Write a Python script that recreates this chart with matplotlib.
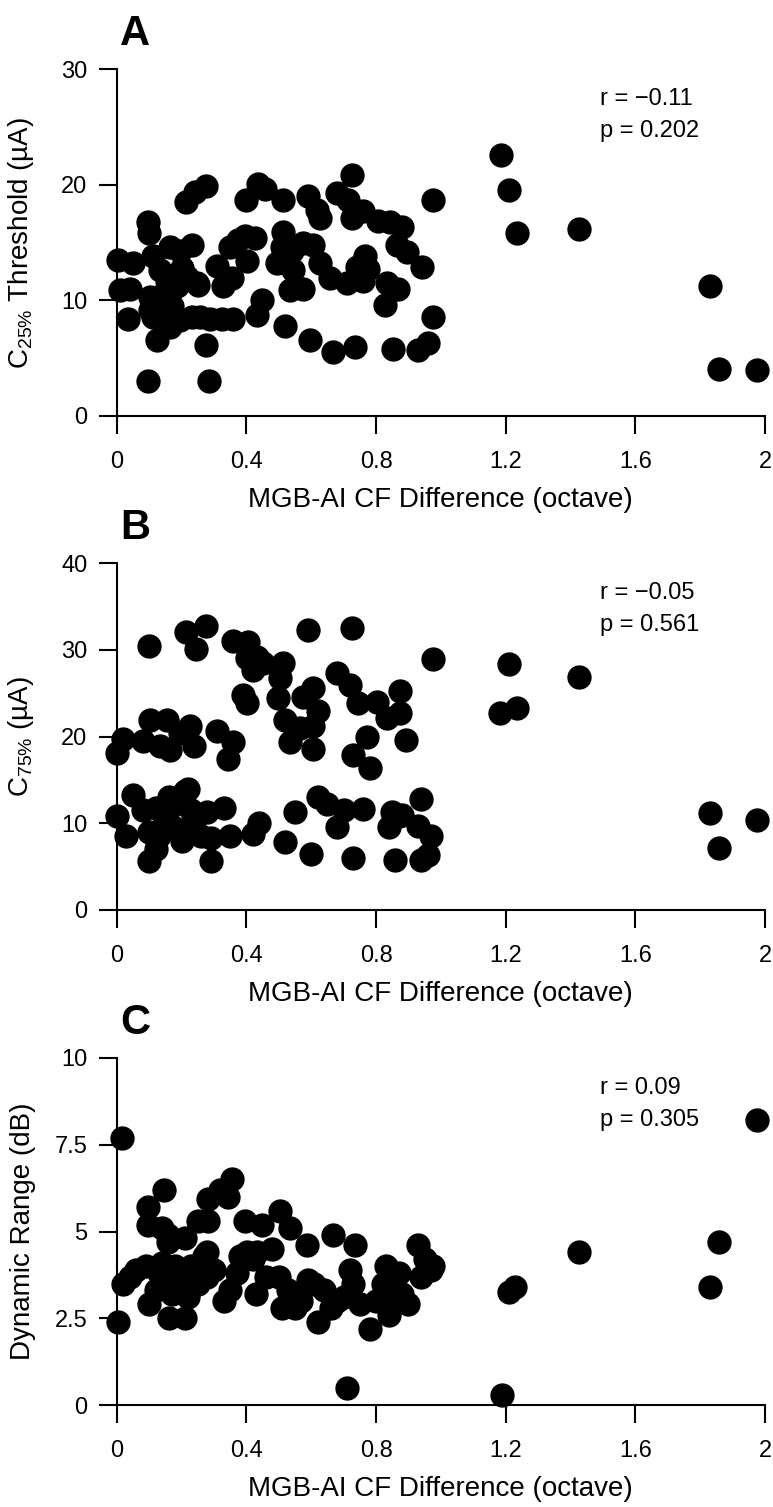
import matplotlib
matplotlib.use("Agg")
import matplotlib.pyplot as plt

plt.rcParams['font.family'] = ['Liberation Sans', 'DejaVu Sans']
plt.rcParams['mathtext.fontset'] = 'custom'
plt.rcParams['mathtext.rm'] = 'Liberation Sans'
plt.rcParams['mathtext.it'] = 'Liberation Sans'

# panel A: C25% threshold (uA) vs MGB-AI CF difference (octave)
a_x = [0.725, 0.214, 0.241, 0.275, 0.40, 0.437, 0.458, 0.512, 0.59, 0.617, 0.627,
       0.68, 0.715, 0.725, 0.761, 0.807, 0.843, 0.879, 0.975, 0.864, 0.895, 0.941,
       0.098, 0.101, 0.005, 0.051, 0.01, 0.041, 0.036, 0.113, 0.164, 0.195, 0.231,
       0.134, 0.154, 0.185, 0.216, 0.247, 0.124, 0.113, 0.124, 0.164, 0.195, 0.231,
       0.103, 0.103, 0.252, 0.308, 0.35, 0.375, 0.396, 0.427, 0.401, 0.329, 0.355,
       0.257, 0.288, 0.324, 0.36, 0.277, 0.098, 0.286, 0.447, 0.432, 0.519, 0.596,
       0.668, 0.735, 0.853, 0.93, 0.961, 0.975, 0.514, 0.509, 0.494, 0.54, 0.576,
       0.607, 0.627, 0.658, 0.709, 0.74, 0.766, 0.776, 0.76, 0.535, 0.576, 0.833,
       0.869, 0.828, 0.545, 0.14, 0.17, 0.2,
       1.185, 1.211, 1.234, 1.427, 1.83, 1.858, 1.976]
a_y = [20.8, 18.5, 19.4, 19.9, 18.7, 20.1, 19.6, 18.7, 19.0, 17.8, 17.1,
       19.3, 18.7, 17.1, 17.7, 16.9, 16.8, 16.3, 18.7, 14.8, 14.2, 12.9,
       16.8, 15.8, 13.5, 13.2, 10.9, 11.0, 8.4, 13.8, 14.6, 14.3, 14.8,
       12.6, 11.7, 11.2, 12.0, 11.5, 10.0, 8.6, 6.6, 7.7, 8.3, 8.6,
       10.3, 9.2, 11.3, 13.0, 14.6, 15.2, 15.6, 15.4, 13.4, 11.2, 11.9,
       8.6, 8.4, 8.4, 8.4, 6.1, 3.0, 3.0, 10.0, 8.7, 7.8, 6.6,
       5.5, 6.0, 5.8, 5.7, 6.3, 8.6, 15.9, 14.6, 13.2, 14.3, 15.0,
       14.8, 13.2, 11.9, 11.5, 12.9, 13.8, 12.7, 11.7, 10.9, 11.0, 11.5,
       11.0, 9.6, 12.6, 10.5, 9.5, 12.8,
       22.6, 19.5, 15.8, 16.2, 11.2, 4.1, 4.0]

# panel B: C75% (uA)
b_x = [0.101, 0.214, 0.275, 0.245, 0.358, 0.406, 0.401, 0.432, 0.452, 0.422,
       0.512, 0.504, 0.499, 0.591, 0.725, 0.975, 0.391, 0.401, 0.576, 0.607,
       0.622, 0.607, 0.566, 0.519, 0.535, 0.68, 0.72, 0.745, 0.802, 0.874,
       0.874, 0.833, 0.771, 0.894, 0.103, 0.154, 0.226, 0.195, 0.308, 0.36,
       0.02, 0.0, 0.082, 0.134, 0.164, 0.237, 0.344, 0.73, 0.78, 0.607,
       0.0, 0.03, 0.05, 0.08, 0.1, 0.1, 0.12, 0.12, 0.13, 0.15, 0.16, 0.17,
       0.18, 0.2, 0.21, 0.22, 0.23, 0.24, 0.26, 0.28, 0.29, 0.29, 0.33, 0.35,
       0.42, 0.44, 0.52, 0.55, 0.6, 0.62, 0.65, 0.68, 0.7, 0.73, 0.76, 0.84,
       0.85, 0.86, 0.87, 0.88, 0.93, 0.94, 0.94, 0.96, 0.97,
       1.211, 1.234, 1.182, 1.427, 1.83, 1.858, 1.976]
b_y = [30.4, 32.1, 32.7, 30.1, 31.0, 30.9, 29.0, 29.2, 28.5, 27.7,
       28.5, 26.7, 24.4, 32.3, 32.5, 28.9, 24.8, 23.9, 24.6, 25.6,
       22.9, 21.2, 21.0, 21.9, 19.4, 27.3, 25.9, 23.9, 24.0, 25.2,
       22.7, 22.1, 20.0, 19.6, 21.9, 21.9, 21.2, 20.4, 20.6, 19.4,
       19.7, 18.1, 19.5, 18.9, 18.5, 18.9, 17.4, 17.9, 16.4, 18.6,
       10.8, 8.5, 13.2, 11.5, 5.7, 9.0, 7.0, 11.8, 8.5, 10.5, 13.0, 12.0,
       9.5, 8.0, 13.7, 14.0, 11.5, 10.3, 8.5, 11.3, 5.7, 8.3, 11.8, 8.5,
       8.8, 10.0, 7.8, 11.3, 6.5, 13.0, 12.2, 9.6, 11.5, 6.0, 11.6, 9.6,
       11.3, 5.8, 10.8, 11.0, 9.7, 12.8, 5.8, 6.3, 8.5,
       28.3, 23.3, 22.7, 26.9, 11.2, 7.2, 10.4]

# panel C: dynamic range (dB)
c_x = [0.015, 0.005, 0.146, 0.098, 0.098, 0.139, 0.159, 0.159, 0.211, 0.355,
       0.344, 0.319, 0.283, 0.252, 0.283, 0.396, 0.447, 0.504, 0.535, 0.586,
       0.668, 0.735, 0.93, 0.401, 0.432, 0.278, 0.976,
       0.02, 0.04, 0.06, 0.09, 0.1, 0.12, 0.13, 0.14, 0.15, 0.16, 0.17, 0.18,
       0.2, 0.21, 0.22, 0.23, 0.25, 0.27, 0.28, 0.3, 0.33, 0.35, 0.37, 0.38,
       0.42, 0.43, 0.46, 0.48, 0.5, 0.51, 0.53, 0.55, 0.57, 0.59, 0.61, 0.62,
       0.64, 0.66, 0.68, 0.7, 0.72, 0.73, 0.75, 0.78, 0.8, 0.82, 0.83, 0.84,
       0.86, 0.87, 0.88, 0.9, 0.94, 0.95, 0.97,
       0.71, 1.19, 1.21, 1.23, 1.427, 1.83, 1.858, 1.976]
c_y = [7.7, 2.4, 6.2, 5.7, 5.2, 5.1, 4.9, 4.7, 4.8, 6.5,
       6.0, 6.2, 5.95, 5.3, 5.3, 5.3, 5.2, 5.6, 5.1, 4.6,
       4.9, 4.6, 4.6, 4.4, 4.4, 4.4, 4.0,
       3.5, 3.7, 3.9, 4.0, 2.9, 3.3, 3.8, 4.1, 3.6, 2.5, 3.2, 4.0,
       3.7, 2.5, 3.1, 4.0, 3.5, 4.3, 3.7, 3.9, 3.0, 3.3, 3.8, 4.3,
       4.2, 3.2, 3.7, 4.5, 3.7, 2.8, 3.3, 2.8, 3.0, 3.6, 3.5, 2.4,
       3.3, 2.8, 3.0, 3.1, 3.9, 3.5, 2.9, 2.2, 3.0, 3.5, 4.0, 2.6,
       3.0, 3.8, 3.2, 2.9, 3.7, 4.2, 3.9,
       0.5, 0.3, 3.25, 3.4, 4.4, 3.4, 4.7, 8.2]

panels = [
    ('A', a_x, a_y, r'C$_{25\%}$ Threshold (µA)', (0, 30), [0, 10, 20, 30], ['0', '10', '20', '30'],
     'r = \u22120.11', 'p = 0.202'),
    ('B', b_x, b_y, r'C$_{75\%}$ (µA)', (0, 40), [0, 10, 20, 30, 40], ['0', '10', '20', '30', '40'],
     'r = \u22120.05', 'p = 0.561'),
    ('C', c_x, c_y, 'Dynamic Range (dB)', (0, 10), [0, 2.5, 5, 7.5, 10], ['0', '2.5', '5', '7.5', '10'],
     'r = 0.09', 'p = 0.305'),
]
xticks = [0, 0.4, 0.8, 1.2, 1.6, 2]
xticklabels = ['0', '0.4', '0.8', '1.2', '1.6', '2']

W, H = 773, 1507
fig = plt.figure(figsize=(W / 100, H / 100), dpi=100)
tops = [69, 563, 1058]
ax_h = 347
left, right = 116.7, 765

for (letter, xs, ys, ylab, ylim, yt, ytl, rtxt, ptxt), top in zip(panels, tops):
    ax = fig.add_axes([left / W, 1 - (top + ax_h) / H, (right - left) / W, ax_h / H])
    ax.plot(xs, ys, 'o', color='black', markersize=16.5, clip_on=False, zorder=5)
    ax.set_xlim(0, 2)
    ax.set_ylim(*ylim)
    for s in ['top', 'right']:
        ax.spines[s].set_visible(False)
    for s in ['left', 'bottom']:
        ax.spines[s].set_linewidth(1.5)
    ax.set_xticks(xticks)
    ax.set_xticklabels(xticklabels)
    ax.set_yticks(yt)
    ax.set_yticklabels(ytl)
    ax.tick_params(axis='both', direction='out', length=13, width=1.5, labelsize=17)
    ax.tick_params(axis='x', pad=12)
    ax.tick_params(axis='y', pad=8)
    ax.set_xlabel('MGB-AI CF Difference (octave)', fontsize=20, labelpad=10)
    ax.set_ylabel(ylab, fontsize=20)
    ax.yaxis.set_label_coords(-0.125, 0.5)
    ax.text(0.028, 1.1, letter, transform=ax.transAxes, ha='center', va='center',
            fontsize=30, fontweight='bold')
    ax.text(0.745, 0.913, rtxt, transform=ax.transAxes, ha='left', va='center', fontsize=17)
    ax.text(0.745, 0.821, ptxt, transform=ax.transAxes, ha='left', va='center', fontsize=17)

fig.savefig('out.png', dpi=100)
